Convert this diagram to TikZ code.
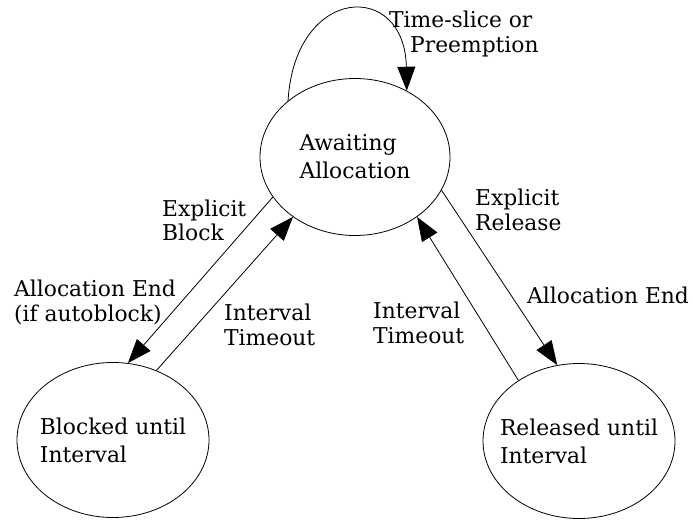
\documentclass[tikz,border=0pt]{standalone}
\usepackage{fontspec}
\setmainfont{DejaVu Serif}
\usepackage{tikz}
\usetikzlibrary{arrows.meta,shapes.geometric}
\tikzset{
  state/.style={
    ellipse,
    draw=black,
    line width=0.8pt,
    inner sep=0pt,
    minimum width=192pt,
    minimum height=155pt
  },
  statetext/.style={
    align=left,
    inner sep=0pt,
    font=\fontsize{21.8pt}{28pt}\selectfont
  },
  lbl/.style={
    align=left,
    inner sep=0pt,
    anchor=base west,
    font=\fontsize{21.8pt}{25pt}\selectfont
  },
  arrow/.style={-{Triangle[length=24pt,width=18pt]}, line width=0.8pt, draw=black}
}

\begin{document}
\begin{tikzpicture}[x=1pt,y=1pt]
  \useasboundingbox (0,0) rectangle (693,520);

  \node[state, minimum width=190pt, minimum height=157pt,
    label={[statetext]center:{Awaiting\\Allocation}}] (awaitAlloc) at (355,363) {};
  \node[state, label={[statetext]center:{Blocked until\\Interval}}] (blockedUntil) at (113,80) {};
  \node[state, label={[statetext]center:{Released until\\Interval}}] (releasedUntil) at (579,79) {};

  \node[lbl] (sliceLbl) at (389,467) {Time-slice or\\\hspace*{21pt}Preemption};
  \node[lbl] (blockLbl) at (162,279) {Explicit\\Block};
  \node[lbl] (autoEndLbl) at (14,199) {Allocation End\\(if autoblock)};
  \node[lbl] (timeoutLeftLbl) at (224,175) {Interval\\Timeout};
  \node[lbl] (releaseLbl) at (475,289) {Explicit\\Release};
  \node[lbl] (allocEndLbl) at (527,217) {Allocation End};
  \node[lbl] (timeoutRightLbl) at (373,177) {Interval\\Timeout};

  \draw[arrow] (awaitAlloc.140) .. controls +(7,116) and +(-2,111) .. (awaitAlloc.52);
  \draw[arrow] (awaitAlloc.206) -- (blockedUntil.79);
  \draw[arrow] (blockedUntil.58) -- (awaitAlloc.224);
  \draw[arrow] (awaitAlloc.339) -- (releasedUntil.106);
  \draw[arrow] (releasedUntil.135) -- (awaitAlloc.316);
\end{tikzpicture}
\end{document}
